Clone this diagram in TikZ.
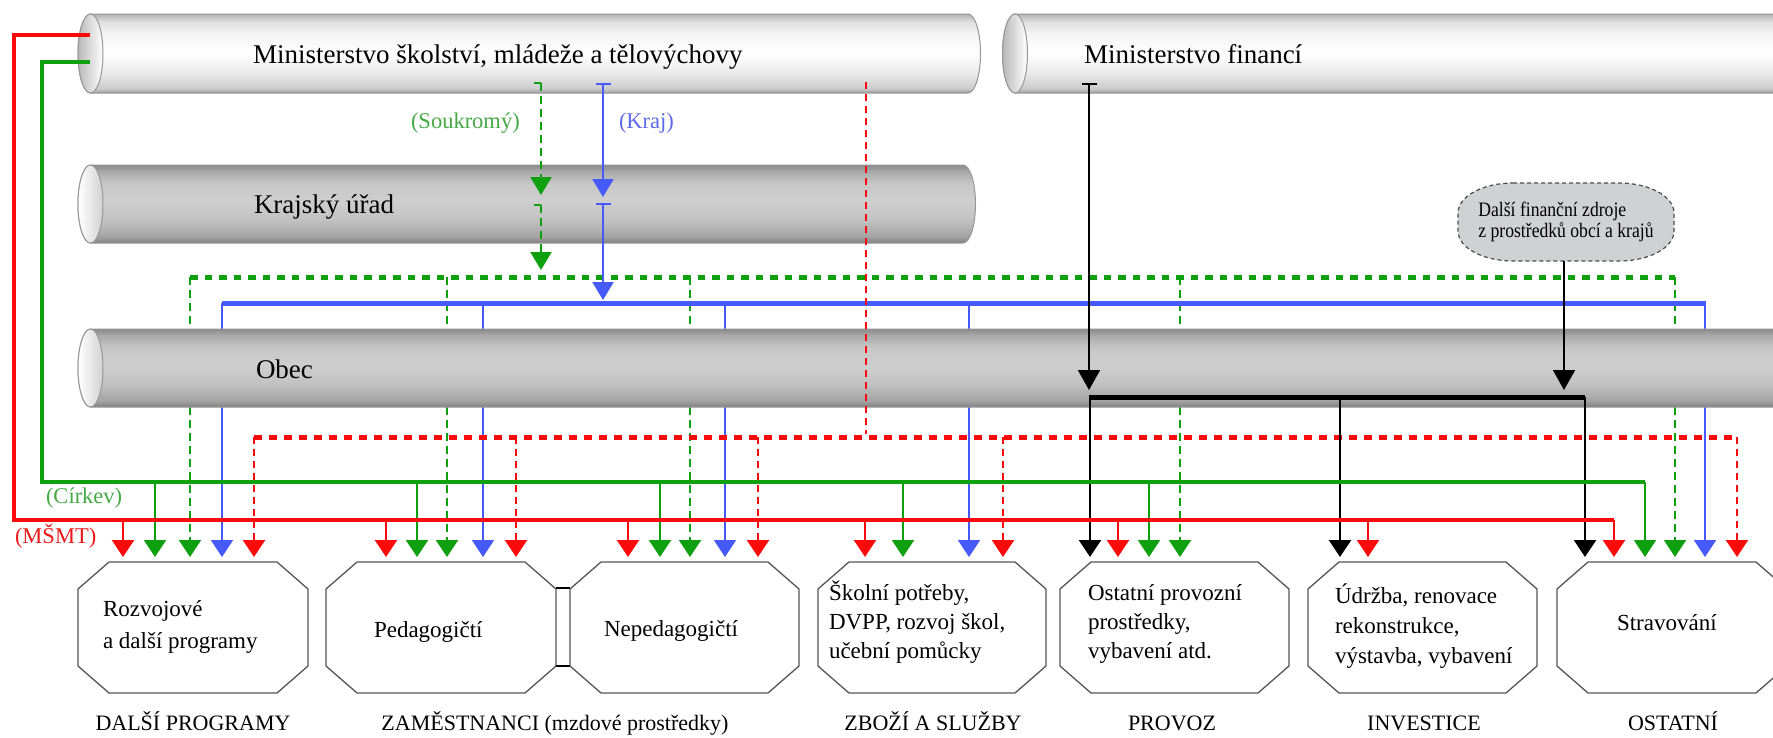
\documentclass[tikz,border=0pt]{standalone}
\usepackage{fontspec}
\setmainfont{Liberation Serif}
\newfontfamily\dzfont[FakeStretch=0.86]{Liberation Serif}
\usetikzlibrary{arrows.meta}
\definecolor{cred}{RGB}{250,10,10}
\definecolor{cgreen}{RGB}{15,160,15}
\definecolor{cblue}{RGB}{70,90,250}
\definecolor{lgreen}{RGB}{70,170,70}
\definecolor{lblue}{RGB}{95,105,235}
\definecolor{lred}{RGB}{235,25,25}
\definecolor{boxgray}{RGB}{85,85,85}
\definecolor{cylline}{RGB}{150,150,152}
\definecolor{dzfill}{RGB}{208,209,211}
\pgfdeclareverticalshading{lightcyl}{100bp}{%
 color(0bp)=(black!38); color(25bp)=(black!38); color(28bp)=(black!20); color(38bp)=(black!8);
 color(50bp)=(white); color(62bp)=(black!4); color(70bp)=(black!12); color(75bp)=(black!30); color(100bp)=(black!30)}
\pgfdeclareverticalshading{darkcyl}{100bp}{%
 color(0bp)=(black!50); color(25bp)=(black!50); color(29bp)=(black!36); color(40bp)=(black!24);
 color(52bp)=(black!19); color(63bp)=(black!22); color(71bp)=(black!34); color(75bp)=(black!46); color(100bp)=(black!46)}
% cylinder: left centre x, right centre x, top y, bottom y, body shading, cap left colour, cap right colour
\newcommand\cylbody[7]{%
 \pgfmathsetmacro\cylry{(#4-#3)/2}%
 \shadedraw[shading=#5, draw=cylline, line width=1pt] (#1,#3) -- (#2,#3)
   arc[start angle=90,end angle=-90,x radius=12.5pt,y radius=\cylry pt] -- (#1,#4)
   arc[start angle=270,end angle=90,x radius=12.5pt,y radius=\cylry pt] -- cycle;
 \shadedraw[left color=#6, right color=#7, draw=cylline, line width=1pt]
   (#1,{(#3+#4)/2}) ellipse [x radius=12.5pt, y radius=\cylry pt];
}
\newcommand\octo[1]{%
 \draw[boxgray, line width=1.3pt, fill=white] ([xshift=31pt]#1.north west) -- ([xshift=-31pt]#1.north east)
  -- ([yshift=-27pt]#1.north east) -- ([yshift=27pt]#1.south east)
  -- ([xshift=-31pt]#1.south east) -- ([xshift=31pt]#1.south west)
  -- ([yshift=27pt]#1.south west) -- ([yshift=-27pt]#1.north west) -- cycle;}
\begin{document}
\begin{tikzpicture}[x=1pt,y=-1pt,
  every node/.style={inner sep=0pt, outer sep=0pt},
  cyltext/.style={font=\fontsize{27}{32}\selectfont, anchor=base west},
  boxtext/.style={font=\fontsize{23}{29}\selectfont, anchor=base west},
  cattext/.style={font=\fontsize{22}{26}\selectfont, anchor=base},
  lbl/.style={font=\fontsize{22.5}{26}\selectfont, anchor=base west},
  boxarea/.style={minimum height=131pt},
  arrowend/.style={-{Triangle[width=22pt,length=17pt]}},
  barend/.style={{Bar[width=15pt]}-{Triangle[width=21pt,length=18pt]}},
  redmain/.style={cred, line width=4pt},
  redbr/.style={cred, line width=2.2pt},
  greenmain/.style={cgreen, line width=3.5pt},
  greenbr/.style={cgreen, line width=2pt},
  bluemain/.style={cblue, line width=5pt},
  bluebr/.style={cblue, line width=1.8pt},
  gdashH/.style={cgreen, line width=5pt, dash pattern=on 7.5pt off 7pt},
  gdashV/.style={cgreen, line width=2pt, dash pattern=on 8pt off 5pt},
  rdashH/.style={cred, line width=5pt, dash pattern=on 7.5pt off 7.5pt},
  rdashV/.style={cred, line width=2.2pt, dash pattern=on 7pt off 5pt},
  blackmain/.style={black, line width=5pt},
  blackbr/.style={black, line width=2.5pt}
]
\useasboundingbox (0,0) rectangle (1773,737);
\fill[white] (0,0) rectangle (1773,737);

% ---------- cylinders (upper) ----------
\cylbody{90.5}{968}{14}{93}{lightcyl}{black!28}{white}
\cylbody{1015}{1800}{14}{93}{lightcyl}{black!28}{white}
\cylbody{90.5}{963}{165}{243}{darkcyl}{white}{black!18}

% ---------- coordinates ----------
\coordinate (rS) at (90,35);  \coordinate (rC1) at (14,35);
\coordinate (rC2) at (14,520); \coordinate (rE) at (1614,520);
\coordinate (gS) at (90,62);  \coordinate (gC1) at (42,62);
\coordinate (gC2) at (42,482); \coordinate (gE) at (1645,482);
\coordinate (kA) at (603,83);  \coordinate (kA2) at (603,197);
\coordinate (kB) at (603,203); \coordinate (kB2) at (603,300);
\coordinate (bL) at (222,303); \coordinate (bR) at (1706,303);
\coordinate (sA) at (541,83);  \coordinate (sA2) at (541,195);
\coordinate (sB) at (541,205); \coordinate (sB2) at (541,270);
\coordinate (gdL) at (190,277); \coordinate (gdR) at (1675,277);
\coordinate (rdA) at (866,82); \coordinate (rdA2) at (866,434);
\coordinate (rdL) at (254,437); \coordinate (rdR) at (1737,437);
\coordinate (mA) at (1089,83); \coordinate (mA2) at (1089,390);
\coordinate (dz2) at (1564,390);
\coordinate (kL) at (1089,397); \coordinate (kR) at (1585,397);
\foreach \x [count=\i] in {123,386,628,865,1118,1368,1614} {\coordinate (rt\i) at (\x,557);}
\foreach \x [count=\i] in {155,417,660,903,1149,1645} {\coordinate (gt\i) at (\x,557);}
\foreach \x [count=\i] in {222,483,725,969,1705} {\coordinate (bt\i) at (\x,557);}
\foreach \x [count=\i] in {190,447,690,1180,1675} {\coordinate (sdt\i) at (\x,557);}
\foreach \x [count=\i] in {254,516,758,1003,1737} {\coordinate (rdt\i) at (\x,557);}
\foreach \x [count=\i] in {1090,1340,1585} {\coordinate (kt\i) at (\x,557);}

% lines passing behind the Obec cylinder
\foreach \i in {1,...,5} \draw[bluebr,arrowend] (bt\i |- bL) -- (bt\i);
\foreach \i in {1,...,5} \draw[gdashV,arrowend] (sdt\i |- gdL) -- (sdt\i);

% Obec cylinder
\cylbody{90.5}{1800}{329}{407}{darkcyl}{white}{black!18}

% cylinder texts
\node[cyltext] (msmt) at (253,63) {Ministerstvo školství, mládeže a tělovýchovy};
\node[cyltext] (mf) at (1084,63) {Ministerstvo financí};
\node[cyltext] (kraj) at (254,213) {Krajský úřad};
\node[cyltext] (obec) at (256,378) {Obec};

% further sources node (rounded outline drawn first, text node on top)
\draw[black!70, line width=1.2pt, dash pattern=on 4pt off 3pt, fill=dzfill]
  (1513,183) -- (1619,183) arc[start angle=90,end angle=0,x radius=55pt,y radius=30pt]
  -- (1674,231) arc[start angle=0,end angle=-90,x radius=55pt,y radius=30pt]
  -- (1513,261) arc[start angle=270,end angle=180,x radius=55pt,y radius=30pt]
  -- (1458,213) arc[start angle=180,end angle=90,x radius=55pt,y radius=30pt] -- cycle;
\node[minimum width=216pt, minimum height=78pt, align=left,
  font=\dzfont\fontsize{20.5}{21.5}\selectfont] (dz) at (1566,222)
  {Další finanční zdroje\\z prostředků obcí a krajů};

% ---------- labels ----------
\node[lbl, text=lgreen] (soukr) at (411,128.5) {(Soukromý)};
\node[lbl, text=lblue] (krajl) at (619,128.5) {(Kraj)};
\node[lbl, text=lgreen] (cirkev) at (46,503) {(Církev)};
\node[lbl, text=lred] (msmtl) at (15,543) {(MŠMT)};

% ---------- Soukromý (green dashed) ----------
\draw[gdashV,-{Triangle[width=21pt,length=18pt]}] (sA) -- (sA2);
\draw[cgreen, line width=2pt] (sA) -- ++(-7,0);
\draw[gdashV,-{Triangle[width=21pt,length=18pt]}] (sB) -- (sB2);
\draw[cgreen, line width=2pt] (sB) -- ++(-7,0);
\draw[gdashH] (gdL) -- (gdR);

% ---------- Kraj (blue) ----------
\draw[cblue, line width=2pt, barend] (kA) -- (kA2);
\draw[cblue, line width=2pt, barend] (kB) -- (kB2);
\draw[bluemain] (bL) -- (bR);

% ---------- MŠMT direct (red dashed) ----------
\draw[rdashV] (rdA) -- (rdA2);
\draw[rdashH] (rdL) -- (rdR);
\foreach \i in {1,...,5} \draw[rdashV,arrowend] (rdt\i |- rdL) -- (rdt\i);

% ---------- Ministerstvo financí (black) ----------
\draw[black, line width=1.8pt, {Bar[width=15pt]}-{Triangle[width=22pt,length=20pt]}] (mA) -- (mA2);
\draw[black, line width=1.8pt, -{Triangle[width=22pt,length=20pt]}] (dz.south -| dz2) -- (dz2);
\draw[blackmain] (kL) -- (kR);
\foreach \i in {1,...,3} \draw[blackbr,arrowend] (kt\i |- kL) -- (kt\i);

% ---------- Církev (green solid) ----------
\draw[greenmain] (gS) -- (gC1) -- (gC2) -- (gE);
\foreach \i in {1,...,6} \draw[greenbr,arrowend] (gt\i |- gE) -- (gt\i);

% ---------- MŠMT (red solid) ----------
\draw[redmain] (rS) -- (rC1) -- (rC2) -- (rE);
\foreach \i in {1,...,7} \draw[redbr,arrowend] (rt\i |- rE) -- (rt\i);

% ---------- boxes ----------
\node[boxarea, minimum width=230pt] (b1) at (193,627.5) {};
\node[boxarea, minimum width=230pt] (b2) at (441,627.5) {};
\node[boxarea, minimum width=229pt] (b3) at (684.5,627.5) {};
\node[boxarea, minimum width=228pt] (b4) at (932,627.5) {};
\node[boxarea, minimum width=229pt] (b5) at (1174.5,627.5) {};
\node[boxarea, minimum width=229pt] (b6) at (1422.5,627.5) {};
\node[boxarea, minimum width=230pt] (b7) at (1672,627.5) {};
\octo{b1}\octo{b2}\octo{b3}\octo{b4}\octo{b5}\octo{b6}\octo{b7}
\draw[black, line width=2.5pt] ([yshift=-26pt]b2.north east) -- ([yshift=-26pt]b3.north west);
\draw[black, line width=2.5pt] ([yshift=27pt]b2.south east) -- ([yshift=27pt]b3.south west);

% box texts
\node[boxtext] (t1a) at (103,616) {Rozvojové};
\node[boxtext] (t1b) at (103,648) {a další programy};
\node[boxtext] (t2) at (374,637) {Pedagogičtí};
\node[boxtext] (t3) at (604,636) {Nepedagogičtí};
\node[boxtext] (t4a) at (829,600) {Školní potřeby,};
\node[boxtext] (t4b) at (829,629) {DVPP, rozvoj škol,};
\node[boxtext] (t4c) at (829,658) {učební pomůcky};
\node[boxtext] (t5a) at (1088,600) {Ostatní provozní};
\node[boxtext] (t5b) at (1088,629) {prostředky,};
\node[boxtext] (t5c) at (1088,658) {vybavení atd.};
\node[boxtext] (t6a) at (1335,603) {Údržba, renovace};
\node[boxtext] (t6b) at (1335,633) {rekonstrukce,};
\node[boxtext] (t6c) at (1335,663) {výstavba, vybavení};
\node[boxtext] (t7) at (1617,630) {Stravování};

% category labels
\node[cattext] (c1) at (193,730) {DALŠÍ PROGRAMY};
\node[cattext] (c2) at (555,730) {ZAMĚSTNANCI (mzdové prostředky)};
\node[cattext] (c3) at (933,730) {ZBOŽÍ A SLUŽBY};
\node[cattext] (c4) at (1172,730) {PROVOZ};
\node[cattext] (c5) at (1424,730) {INVESTICE};
\node[cattext] (c6) at (1673,730) {OSTATNÍ};
\end{tikzpicture}
\end{document}
